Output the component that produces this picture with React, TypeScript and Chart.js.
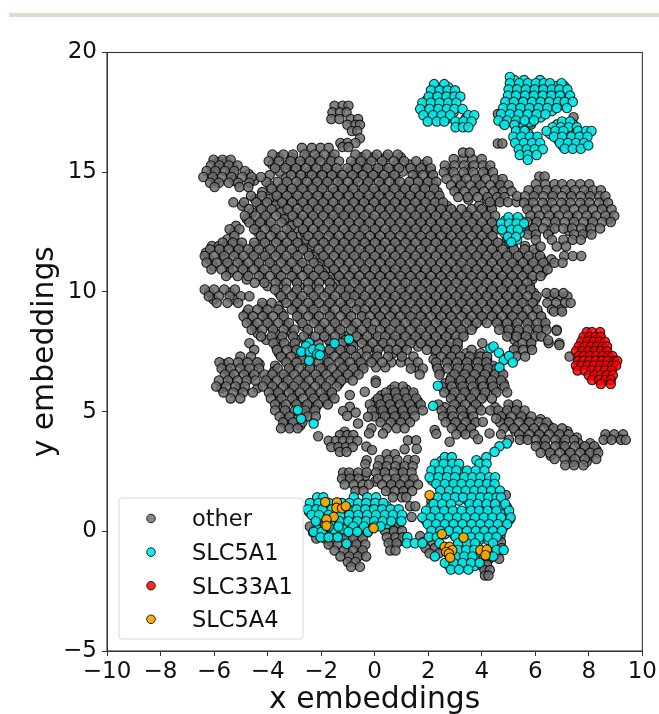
import React, { useEffect, useRef } from "react";
import { Chart, registerables } from "chart.js";

Chart.register(...registerables);

const xTicks = [-10, -8, -6, -4, -2, 0, 2, 4, 6, 8, 10];
const yTicks = [-5, 0, 5, 10, 15, 20];
const seriesNames = ["other", "SLC5A1", "SLC33A1", "SLC5A4"];

// Every row: [y, x, x, x ...]
const otherPatches: number[][] = [
  [11.78,-2.4],[11.5,-2.18],[11.22,-2.0],[10.94,-1.8],[10.66,-1.6],[10.38,-1.42],[10.12,-1.12],[9.9,-0.92],
  [13.18,-3.38],[12.9,-3.18],[12.62,-2.98],[12.34,-2.78],[12.06,-2.58],
  [14.0,-3.95],[13.75,-3.75],[13.46,-3.55],[8.14,-1.08],
  [7.86,-2.55,-2.1,-1.65,-0.85],[7.58,-2.5,-2.1,-1.0],[7.3,-2.75,-2.3,-1.9],[7.06,-2.5,0.62,0.98,1.3],[6.85,0.05,0.4,1.55],
  [17.43,4.6],[16.99,5.84],[17.3,7.43],[16.2,4.6,4.77],
];

const otherUnder: number[][] = [
  [15.62,-3.58,-3.1,-2.55,-2.1,-1.62,-0.5,-0.05,0.42,0.98],
  [15.32,-3.82,-3.25,-2.8,-2.3,-1.72,-0.72,-0.28,0.3,0.82,1.3,1.82],
  [15.03,-3.55,-3.02,-2.45,-1.95,-1.48,-0.92,-0.45,0.05,0.6,1.05,1.6,2.08],
  [14.74,-3.32,-2.72,-2.2,-1.72,-1.25,-0.7,-0.18,0.3,0.78,1.55,2.1],
  [14.45,-3.92,-3.4,-2.85,-2.35,-1.88,-1.3,-0.82,-0.3,0.22,0.75,1.2,1.78,2.22],
  [14.17,-4.2,-3.65,-3.12,-2.6,-2.08,-1.52,-1.02,-0.48,0.02,0.5,1.05,1.55,2.02,2.35],
  [13.88,-4.48,-3.95,-3.42,-2.9,-2.35,-1.82,-1.3,-0.75,-0.22,0.28,0.82,1.3,1.85,2.42],
  [13.6,-4.95,-4.3,-3.72,-3.2,-2.65,-2.12,-1.6,-1.02,-0.5,0.05,0.55,1.08,1.6,2.12,2.7,3.9,4.35],
  [13.32,-4.58,-4.02,-3.5,-2.98,-2.42,-1.88,-1.32,-0.8,-0.28,0.3,0.82,1.35,1.88,2.4,2.95,3.45,4.1],
  [13.04,-4.78,-4.2,-3.38,-2.75,-2.22,-1.65,-1.12,-0.55,-0.05,0.5,1.02,1.58,2.1,2.62,3.2,3.72,4.3],
  [12.76,-5.18,-4.45,-3.92,-3.1,-2.55,-2.0,-1.45,-0.92,-0.38,0.15,0.72,1.25,1.78,2.3,2.88,3.4,3.95,4.48],
  [12.48,-5.25,-4.35,-3.7,-3.18,-2.62,-2.18,-1.65,-1.1,-0.58,-0.02,0.5,1.05,1.55,2.12,2.65,3.18,3.72,4.25],
  [12.2,-5.5,-4.2,-3.6,-3.05,-2.55,-2.05,-1.48,-0.95,-0.4,0.12,0.68,1.2,1.75,2.28,2.8,3.35,3.9,4.42,4.95],
  [11.92,-6.08,-5.55,-5.05,-4.5,-3.95,-3.4,-2.85,-2.35,-1.82,-1.25,-0.72,-0.2,0.32,0.88,1.4,1.92,2.48,3.0,3.55,4.1,4.6,5.15,5.62],
  [11.64,-6.3,-5.72,-5.2,-4.65,-4.15,-3.6,-3.05,-2.5,-1.98,-1.45,-0.92,-0.38,0.15,0.68,1.22,1.75,2.3,2.82,3.35,3.88,4.42,4.95,5.5,6.02],
  [11.36,-6.18,-5.62,-5.05,-4.48,-3.95,-3.4,-2.88,-2.32,-1.78,-1.22,-0.7,-0.15,0.38,0.92,1.45,1.98,2.52,3.05,3.6,4.12,4.65,5.18,5.72,6.25,6.6],
  [11.08,-6.02,-5.45,-4.9,-4.32,-3.78,-3.22,-2.68,-2.12,-1.58,-1.05,-0.5,0.02,0.55,1.1,1.62,2.15,2.7,3.22,3.78,4.3,4.85,5.38,5.92,6.35],
  [10.8,-5.42,-4.78,-4.2,-3.62,-3.05,-2.48,-1.95,-1.4,-0.85,-0.3,0.22,0.75,1.3,1.85,2.38,2.92,3.45,4.0,4.52,5.05,5.62,6.28],
  [10.52,-4.78,-4.18,-3.55,-2.95,-2.32,-1.75,-1.2,-0.65,-0.1,0.42,0.98,1.52,2.05,2.6,3.12,3.65,4.2,4.75,5.28,5.88],
  [10.24,-4.0,-3.42,-2.82,-2.18,-1.58,-1.02,-0.48,0.08,0.62,1.15,1.7,2.25,2.78,3.32,3.85,4.4,4.92,5.45,5.8],
  [9.96,-3.58,-3.0,-2.38,-1.78,-1.18,-0.62,-0.08,0.45,1.0,1.52,2.08,2.6,3.15,3.68,4.22,4.78,5.3,5.95],
  [9.68,-3.38,-2.78,-2.18,-1.58,-0.98,-0.4,0.15,0.68,1.22,1.75,2.3,2.85,3.38,3.92,4.45,5.0,5.52,6.0],
  [9.4,-4.18,-3.58,-2.98,-2.38,-1.78,-1.18,-0.6,-0.05,0.5,1.02,1.58,2.1,2.65,3.18,3.72,4.28,4.8,5.35,5.92],
  [9.12,-4.78,-4.1,-3.48,-2.88,-2.28,-1.68,-1.05,-0.45,0.1,0.65,1.18,1.72,2.28,2.8,3.35,3.88,4.42,4.98,5.5,6.1],
  [8.84,-4.62,-4.02,-3.4,-2.78,-2.18,-1.58,-0.98,-0.35,0.25,0.8,1.35,1.88,2.42,2.95,3.5,4.02,4.58,5.12,5.68,6.25],
  [8.56,-4.48,-3.88,-3.25,-2.65,-2.02,-1.42,-0.82,-0.22,0.38,0.95,1.5,2.02,2.58,3.12,3.68,4.8,5.3,5.85,6.35],
  [8.28,-4.38,-3.72,-3.1,-2.5,-1.88,-1.28,-0.65,-0.05,0.55,1.12,1.68,2.22,2.78,3.32,5.02,5.5,6.12],
  [8.0,-4.05,-3.5,-2.92,-2.42,-1.72,-1.08,-0.4,0.22,0.82,1.38,1.95,2.5,3.12,5.22,5.75],
  [7.72,-3.68,-3.1,-1.45,-0.8,-0.18,0.45,1.05,1.62,2.18,2.72,3.1,5.32,5.82],
  [7.44,-3.58,-2.95,-1.72,-1.12,-0.5,0.08,0.68,1.0,2.28,2.88,3.42,3.95],
  [7.18,-3.38,-2.72,-1.88,-1.25,-0.65,-0.08,2.2,2.72,3.25,3.78,4.2],
  [6.92,-3.72,-3.02,-2.4,-1.78,-1.12,-0.48,2.32,2.92,3.48,4.02,4.42],
  [6.66,-3.78,-3.18,-2.55,-1.95,-1.32,-0.72,2.45,3.12,3.68,4.22,4.7],
  [6.42,-4.0,-3.42,-2.78,-2.15,-1.52,-1.02,2.85,3.42,3.98,4.55],
  [6.18,-3.95,-3.28,-2.62,-2.0,-1.32,2.62,3.18,3.75,4.3,4.82],
  [5.92,-3.72,-3.08,-2.48,-1.82,0.62,1.18,2.78,3.35,3.9,4.48],
  [5.68,-3.55,-2.92,-2.25,-1.62,0.25,0.88,1.42,2.92,3.52,4.1],
  [5.42,-3.6,-2.98,-2.35,-1.82,0.02,0.62,1.18,1.62,3.1,3.7],
  [5.18,-3.42,-2.72,-2.2,0.22,0.82,1.4,2.62,3.22,3.88,4.5,5.12],
  [4.92,-3.3,-2.62,0.45,1.02,2.72,3.4,4.85,5.42],
  [4.68,-3.38,-2.92,0.72,1.22,2.85,3.55,4.9,5.62,6.2],
  [4.42,-3.25,-2.78,3.1,3.62,5.05,5.7,6.5],
  [4.18,3.28,5.25,6.05,6.72,7.2],
  [3.92,5.6,6.3,6.95,7.55,8.72,9.12],
  [3.68,6.25,6.92,7.62,8.05],
  [3.42,6.42,7.12,7.82,8.28],
  [3.15,6.58,7.32,8.02],
  [2.9,7.4,7.92],
  [14.92,-6.12,-5.42,-4.7],[14.65,-5.92,-5.25,-4.5],[15.18,-5.88,-5.28],[15.42,-5.85,-5.55],
  [14.62,3.22,3.88,4.62],[15.12,2.78,3.5,4.2],[14.32,3.1,3.78,4.6],[13.86,3.5,4.2,4.7],
  [14.12,6.0,6.65,7.3,8.0],[13.6,5.75,6.45,7.15,7.85,8.55],[13.05,6.0,6.7,7.4,8.1,8.75],[12.55,5.85,6.55,7.25,7.95],
  [11.92,-5.82,-5.18],[9.98,-6.18,-5.4],[9.68,-6.02,-5.25],
  [6.98,-5.62,-4.92,-4.3],[6.45,-5.4,-4.62],[5.98,-5.72,-5.05,-4.38],[6.72,-5.48,-4.78],
  [5.55,0.32,0.98],[5.1,0.05,0.62,1.2],[4.75,0.2,0.92],
  [2.6,0.3,0.95],[2.08,0.02,0.78,1.32],[1.82,0.55,1.12],[2.32,-1.05,-0.78,-0.35],
  [0.1,-2.25,-1.62,-0.95,-0.48],[-0.42,-1.65,-1.02,-0.62],[-0.92,-1.02,-0.55],
  [0.15,0.7],[-0.4,0.62,0.95],
];

const otherMain: number[][] = [
  [17.78,-1.5,-1.2,-0.98],[17.5,-1.58,-1.3,-1.05],[17.22,-1.62,-1.32,-0.9,-0.62],[16.98,-1.02,-0.72,-0.55],[16.72,-0.85,-0.65],[16.42,-0.55],
  [16.22,-1.28,-1.02,-0.72],[16.05,-1.2,-0.98],
  [16.02,-2.72,-2.35,-2.02,-1.72],
  [15.74,-3.82,-3.41,-3.05,-2.62,-2.24,-1.88,-1.5,-0.72,-0.31,0.08,0.49,0.86],
  [15.46,-3.96,-3.58,-3.14,-2.78,-2.41,-2.03,-1.62,-1.33,-0.88,-0.52,-0.12,0.28,0.71,1.1,1.55,1.97],
  [15.17,-3.72,-3.33,-2.94,-2.57,-2.18,-1.79,-1.42,-1.02,-0.66,-0.27,0.13,0.52,0.91,1.34,1.72,2.1],
  [14.88,-3.92,-3.12,-2.76,-2.35,-1.96,-1.6,-1.2,-0.83,-0.44,-0.06,0.35,0.74,1.42,1.8,2.18],
  [14.6,-4.05,-3.62,-3.28,-2.92,-2.53,-2.15,-1.77,-1.38,-1.0,-0.62,-0.24,0.16,0.55,0.94,1.3,1.62,2.0,2.3],
  [14.31,-3.85,-3.47,-3.09,-2.7,-2.32,-1.95,-1.56,-1.18,-0.8,-0.41,-0.03,0.36,0.74,1.13,1.5,1.88,2.22],
  [14.02,-4.62,-4.22,-3.66,-3.28,-2.88,-2.51,-2.13,-1.74,-1.36,-0.97,-0.6,-0.22,0.17,0.56,0.93,1.32,1.7,2.06,2.42],
  [13.74,-5.28,-4.88,-4.42,-4.02,-3.46,-3.08,-2.69,-2.31,-1.92,-1.55,-1.16,-0.78,-0.4,-0.02,0.37,0.76,1.14,1.52,1.9,2.26,2.56],
  [13.46,-4.7,-4.24,-3.85,-3.26,-2.88,-2.5,-2.11,-1.73,-1.35,-0.96,-0.58,-0.2,0.2,0.58,0.96,1.34,1.72,2.1,2.48,2.86,3.24,3.62,4.0,4.38],
  [13.18,-4.85,-4.45,-4.07,-3.68,-3.07,-2.68,-2.3,-1.92,-1.54,-1.15,-0.77,-0.39,0,0.38,0.77,1.15,1.53,1.91,2.29,2.67,3.05,3.43,3.81,4.19,4.5],
  [12.9,-4.68,-4.28,-3.88,-3.48,-2.87,-2.49,-2.11,-1.72,-1.34,-0.96,-0.58,-0.19,0.2,0.58,0.96,1.34,1.72,2.1,2.48,2.86,3.24,3.62,4.0,4.38],
  [12.62,-5.42,-5.05,-4.5,-4.1,-3.7,-3.29,-2.68,-2.3,-1.91,-1.53,-1.15,-0.76,-0.38,0.01,0.39,0.77,1.15,1.53,1.91,2.29,2.67,3.05,3.43,3.81,4.19,4.58],
  [12.34,-5.24,-4.25,-3.88,-3.48,-3.08,-2.48,-2.1,-1.72,-1.33,-0.95,-0.57,-0.18,0.2,0.58,0.96,1.34,1.72,2.1,2.48,2.86,3.24,3.62,4.0,4.4],
  [12.06,-5.68,-5.3,-4.96,-4.5,-4.1,-3.68,-3.28,-2.88,-2.29,-1.91,-1.52,-1.14,-0.76,-0.37,0.01,0.39,0.77,1.15,1.53,1.91,2.29,2.67,3.05,3.43,3.81,4.19,4.6,5.0],
  [11.78,-6.15,-5.8,-5.45,-5.08,-4.72,-4.33,-3.9,-3.5,-3.1,-2.68,-2.1,-1.72,-1.33,-0.95,-0.57,-0.18,0.2,0.58,0.96,1.34,1.72,2.1,2.48,2.86,3.24,3.62,4.0,4.38,4.78,5.2,5.6,5.95],
  [11.5,-6.35,-6.0,-5.62,-5.25,-4.9,-4.52,-4.1,-3.7,-3.3,-2.88,-2.46,-1.91,-1.52,-1.14,-0.76,-0.37,0.01,0.39,0.77,1.15,1.53,1.91,2.29,2.67,3.05,3.43,3.81,4.19,4.57,4.95,5.35,5.75,6.18,7.08,7.4,7.72],
  [11.22,-6.28,-5.9,-5.5,-5.12,-4.72,-4.32,-3.92,-3.5,-3.1,-2.7,-2.28,-1.72,-1.33,-0.95,-0.57,-0.18,0.2,0.58,0.96,1.34,1.72,2.1,2.48,2.86,3.24,3.62,4.0,4.38,4.76,5.14,5.54,5.92,6.3,6.72,7.02],
  [10.94,-6.1,-5.72,-5.3,-4.92,-4.52,-4.12,-3.7,-3.3,-2.9,-2.48,-2.08,-1.52,-1.14,-0.76,-0.37,0.01,0.39,0.77,1.15,1.53,1.91,2.29,2.67,3.05,3.43,3.81,4.19,4.57,4.95,5.33,5.72,6.1,6.46],
  [10.66,-5.55,-5.12,-4.72,-4.32,-3.92,-3.5,-3.1,-2.7,-2.28,-1.88,-1.33,-0.95,-0.57,-0.18,0.2,0.58,0.96,1.34,1.72,2.1,2.48,2.86,3.24,3.62,4.0,4.38,4.76,5.14,5.52,5.9,6.2],
  [10.38,-4.48,-4.12,-3.7,-3.3,-2.9,-2.48,-2.08,-1.68,-1.14,-0.76,-0.37,0.01,0.39,0.77,1.15,1.53,1.91,2.29,2.67,3.05,3.43,3.81,4.19,4.57,4.95,5.32,5.7],
  [10.1,-6.35,-6.0,-5.62,-5.22,-3.72,-3.3,-2.9,-2.48,-2.08,-1.68,-1.28,-0.95,-0.57,-0.18,0.2,0.58,0.96,1.34,1.72,2.1,2.48,2.86,3.24,3.62,4.0,4.38,4.76,5.14,5.52,5.82],
  [9.82,-6.2,-5.82,-5.42,-5.0,-4.68,-3.5,-3.1,-2.7,-2.28,-1.88,-1.48,-1.08,-0.76,-0.37,0.01,0.39,0.77,1.15,1.53,1.91,2.29,2.67,3.05,3.43,3.81,4.19,4.57,4.95,5.33,5.7,6.05,6.55,6.85,7.2],
  [9.54,-5.9,-5.5,-5.1,-4.2,-3.85,-3.3,-2.9,-2.48,-2.08,-1.68,-1.28,-0.88,-0.57,-0.18,0.2,0.58,0.96,1.34,1.72,2.1,2.48,2.86,3.24,3.62,4.0,4.38,4.76,5.14,5.52,5.9,6.45,6.78,7.12,7.32],
  [9.26,-4.72,-4.38,-4.0,-3.6,-3.1,-2.7,-2.28,-1.88,-1.48,-1.08,-0.68,-0.37,0.01,0.39,0.77,1.15,1.53,1.91,2.29,2.67,3.05,3.43,3.81,4.19,4.57,4.95,5.33,5.71,6.08,6.62,6.95],
  [8.98,-4.9,-4.55,-4.18,-3.8,-3.4,-2.9,-2.48,-2.08,-1.68,-1.28,-0.88,-0.48,-0.18,0.2,0.58,0.96,1.34,1.72,2.1,2.48,2.86,3.24,3.62,4.0,4.38,4.76,5.14,5.52,5.9,6.22],
  [8.7,-4.78,-4.38,-4.0,-3.6,-3.2,-2.7,-2.28,-1.88,-1.48,-1.08,-0.68,-0.28,0.01,0.39,0.77,1.15,1.53,1.91,2.29,2.67,3.05,3.43,3.81,4.19,4.57,4.95,5.33,5.71,6.08,6.38],
  [8.42,-4.6,-4.2,-3.8,-3.4,-3,-2.5,-2.08,-1.68,-1.28,-0.88,-0.48,-0.08,0.2,0.58,0.96,1.34,1.72,2.1,2.48,2.86,3.24,3.62,4.65,5.0,5.38,5.72,6.1,6.42,6.8],
  [8.14,-4.25,-3.85,-3.45,-3.05,-2.65,-2.22,-1.88,-1.48,-0.68,-0.28,0.12,0.39,0.77,1.15,1.53,1.91,2.29,2.67,3.05,3.32,4.95,5.3,5.65,6.02,6.22],
  [7.86,-4.68,-3.78,-3.38,-2.98,-1.22,-0.48,-0.08,0.32,0.62,0.96,1.34,1.72,2.1,2.48,2.86,3.1,4.02,5.52,5.85,6.5,6.9],
  [7.58,-4.5,-3.65,-3.28,-2.92,-1.68,-1.28,-0.88,-0.28,0.12,0.52,0.82,1.2,1.95,2.29,2.67,3.02,3.62,5.2,5.55,5.88],
  [7.3,-5.02,-4.62,-3.5,-3.12,-1.5,-1.1,-0.7,-0.3,0.1,0.5,1.02,1.45,2.48,2.86,3.2,3.55,3.95,4.2,5.28,5.62,7.28],
  [7.06,-5.8,-5.45,-5.1,-4.75,-4.38,-3.3,-2.92,-2.1,-1.72,-1.32,-0.92,-0.52,-0.12,0.28,1.62,2.3,2.7,3.08,3.45,3.85,4.18],
  [6.8,-5.72,-5.38,-5.02,-4.68,-4.32,-3.62,-3.2,-2.82,-2.42,-2.02,-1.6,-1.2,-0.8,-0.42,1.35,1.8,2.35,2.72,3.1,3.48,3.86,4.24,4.55],
  [6.55,-5.6,-5.25,-4.88,-4.5,-4.12,-3.82,-3.4,-3.0,-2.6,-2.2,-1.8,-1.4,-1.0,-0.6,1.68,2.42,2.98,3.36,3.74,4.12,4.5,4.8],
  [6.3,-5.82,-5.48,-5.12,-4.78,-4.45,-4.05,-3.65,-3.25,-2.85,-2.45,-2.05,-1.65,-1.25,-0.82,0.04,2.82,3.22,3.6,4.0,4.38,4.72],
  [6.05,-5.92,-5.55,-5.2,-4.85,-4.18,-3.82,-3.42,-3.02,-2.62,-2.22,-1.82,-1.42,0.75,1.05,2.5,2.88,3.28,3.66,4.05,4.42,4.85],
  [5.8,-5.65,-5.28,-4.92,-4.55,-3.95,-3.6,-3.2,-2.8,-2.4,-2.02,-1.6,0.42,0.78,1.12,1.45,2.6,2.98,3.36,3.74,4.12,4.55,4.95],
  [5.55,-5.38,-5.02,-3.88,-3.48,-3.08,-2.68,-2.28,-1.9,-1.5,0.12,0.48,0.85,1.2,1.55,2.85,3.22,3.6,4.0,4.38],
  [5.3,-3.72,-3.32,-2.92,-2.52,-2.12,-1.75,-0.18,0.22,0.58,0.95,1.32,1.72,2.38,2.98,3.38,3.78,5.0,5.32],
  [5.05,-3.72,-3.35,-2.98,-2.6,-2.22,-0.1,0.3,0.68,1.05,1.42,1.8,2.5,2.88,3.25,3.62,3.98,4.32,4.62,4.95,5.28,5.6],
  [4.8,-3.55,-3.18,-2.5,-2.2,-0.02,0.38,0.75,1.12,1.5,2.55,2.92,3.3,3.68,4.72,5.1,5.48,5.85],
  [4.55,-3.42,-3.05,-2.7,0.22,0.6,0.98,1.32,2.65,3.02,3.4,3.78,4.68,5.02,5.4,5.78,6.15,6.42],
  [4.3,-3.5,-3.18,-2.88,0.45,0.82,1.12,2.88,3.25,3.6,4.82,5.2,5.58,5.95,6.32,6.68,7.0],
  [4.05,3.05,3.4,3.72,4.72,5.4,5.78,6.15,6.52,6.9,7.25,8.62,8.95,9.28],
  [3.82,5.02,5.42,5.72,6.02,6.38,6.75,7.12,7.45,8.55,8.85,9.2,9.38],
  [3.55,6.02,6.38,6.75,7.1,7.48,7.85,8.2],
  [3.28,6.2,6.55,6.92,7.3,7.68,8.05,8.35],
  [3.02,6.72,7.1,7.48,7.85,8.28],
  [2.76,7.12,7.45,7.8],
  [15.52,-6.02,-5.68,-5.38],[15.28,-6.12,-5.8,-5.45,-5.12],[15.05,-6.28,-5.95,-5.6,-5.25,-4.85],[14.8,-6.4,-6.05,-5.7,-5.35,-4.95,-4.6,-4.25],[14.56,-6.15,-5.82,-5.45,-5.1,-4.68],[14.38,-5.98,-5.05,-4.72],
  [15.55,2.95,3.3,3.65,4.0],[15.82,3.3,3.55],[15.28,2.62,2.98,3.34,3.7,4.05,4.32],[15.0,2.58,2.95,3.32,3.68,4.05,4.42],[14.72,2.68,3.05,3.42,3.78,4.15,4.5,4.78],[14.46,2.85,3.22,3.58,3.95,4.32,4.7,5.0],[14.2,2.98,3.35,3.72,4.08,4.45,4.8,5.12],[13.96,3.12,3.48,3.85,4.22,4.58,4.85],[13.75,4.3,4.68,4.98,5.3],
  [14.82,6.15,6.35],[14.5,6.02,6.38,6.72,7.0,7.35,7.68,8.02],[14.25,5.75,6.1,6.42,6.78,7.12,7.48,7.82,8.16,8.45],[14.0,5.32,5.62,5.95,6.3,6.65,7.0,7.35,7.7,8.05,8.4,8.62],[13.72,5.58,5.92,6.28,6.62,6.98,7.32,7.68,8.02,8.38,8.72],[13.45,5.7,6.05,6.4,6.75,7.1,7.45,7.8,8.15,8.5,8.85],[13.18,5.82,6.15,6.52,6.88,7.22,7.58,7.92,8.28,8.62,8.95],[12.92,5.7,6.05,6.4,6.75,7.1,7.45,7.8,8.15,8.5,8.82],[12.65,5.6,5.95,6.3,6.72,7.05,7.38,7.72,8.08,8.42],[12.4,5.72,6.02,6.48,7.45,7.78,8.1],[12.18,6.02,6.62,7.05,7.4,7.7],[11.9,6.2,6.8,7.15],
  [9.95,6.42,6.72,7.05],[9.18,6.7,7.0],[8.38,6.8],[7.98,6.48],[7.78,6.9],
  [5.69,-0.93],[5.83,-0.37],[6.2,0.04],[5.2,-0.93],[5.03,-1.18],[4.96,-0.71],[4.82,-1.03],[4.78,-0.25],[4.5,-0.62],[4.3,-0.12],[4.09,-0.21],[3.97,-2.11],[4.16,-1.12],[3.54,-0.31],[3.4,-0.1],[2.97,-0.3],[2.8,-0.35],
  [4.57,4.04],[4.09,4.29],[4.71,4.54],[3.74,2.8],[4.23,2.24],[4.07,2.3],[3.85,3.86],[3.43,1.12],[3.8,1.24,1.55],[3.45,1.57],[4.08,0.31],
  [4.02,-1.3,-1.02,-0.8],[3.78,-1.72,-1.45,-1.18,-0.9,-0.65],[3.52,-1.62,-1.35,-1.08,-0.82],[3.32,-1.3,-1.05],
  [3.22,0.45,0.75],[2.98,0.18,0.52,0.85,1.25,1.5],[2.72,0.12,0.45,0.78,1.12,1.42],[2.46,-1.18,-0.95,-0.62,-0.3,0.05,0.38,0.72,1.06,1.38],[2.2,-1.22,-0.92,-0.6,0.12,0.45,0.78,1.12,1.45],[1.95,-1.12,-0.78,-0.45,-0.22,0.28,0.62,0.95,1.3,1.62],[1.68,-0.72,-0.42,0.42,0.75,1.08,1.4],[1.42,0.68,1.02,1.18],
  [1.25,2.12],[1.05,1.32,1.52],[0.6,1.38],[0.28,0.55,0.9],[0.02,0.38,0.72,1.02],[-0.25,0.45,0.78,1.05],[-0.5,0.52,0.82],[-0.8,0.58,0.78],
  [0.2,-2.42,-2.1,-1.75,-1.4,-1.05,-0.7,-0.35],[-0.05,-2.3,-1.95,-1.6,-1.25,-0.9,-0.55,-0.28],[-0.3,-2.18,-1.85,-1.5,-1.15,-0.8,-0.45],[-0.55,-1.72,-1.38,-1.02,-0.68,-0.35],[-0.8,-1.5,-1.15,-0.8,-0.45],[-1.05,-1.28,-0.95,-0.62,-0.32],[-1.28,-1.0,-0.72],[-1.48,-0.88,-0.55],
  [-0.2,1.7,2.1,4.7],[-0.45,1.82,2.15,4.35,4.72],[-0.7,1.9,2.25,4.4,4.75],[-0.92,2.05,2.4,4.15,4.55],[-1.15,3.9,4.28,4.65],[-1.4,3.95,4.2],[-1.62,4.1,4.3],[-1.85,4.12,4.25],[1.52,4.9],[1.0,3.65,4.95],[0.5,5.05],[2.5,3.42],
];

const slc5a1Under: number[][] = [
  [18.55,2.32,2.75],[18.28,2.18,2.55,2.9],[18.02,1.95,2.25,2.6,2.9],[17.78,1.88,2.22,2.55,2.88],[17.5,1.92,2.28,2.62,2.95],[17.25,2.05,2.42,2.72,3.4],[17.0,3.12,3.42],
  [18.85,5.22,5.58,6.18],[18.6,5.18,5.52,5.85,6.18,6.48,6.78,7.08],[18.33,5.12,5.48,5.82,6.12,6.45,6.78,7.05],[18.07,5.08,5.42,5.75,6.08,6.42,6.75,7.18],[17.81,5.02,5.35,5.7,6.02,6.35,6.68,7.0],[17.55,4.95,5.28,5.62,5.95,6.28,6.62],[17.29,4.85,5.2,5.52,5.85,6.2],[17.08,4.78,5.12,5.45,5.8],
  [16.6,5.42,5.75],[16.35,5.32,5.65,5.98],[16.1,5.42,5.75,6.05],[15.85,5.55,5.85],
  [17.0,6.82,7.15,7.42],[16.6,6.55,6.88,7.2,7.52,7.8],[16.35,6.85,7.18,7.5,7.8],[16.1,7.02,7.32,7.62],
  [12.98,4.88,5.18,5.45],[12.72,4.9,5.2,5.48],[12.45,4.85,5.15,5.42],[12.18,5.02,5.32],
  [2.95,2.5,2.78],[2.68,2.4,2.72,3.02],[2.4,2.25,2.58,2.88,3.2,3.62,3.92],[2.12,2.15,2.5,2.82,3.12,3.45,3.78,4.12,4.38],[1.84,2.42,2.78,3.1,3.42,3.75,4.05,4.35],[1.56,2.55,2.9,3.22,3.55,3.88,4.18,4.5],[1.28,2.48,2.8,3.15,3.48,3.78,4.1,4.42],[1.0,2.08,2.38,2.72,3.72,4.02,4.35,4.7],[0.72,2.05,2.4,2.75,3.08,3.42,3.75,4.08,4.38,4.72],[0.44,1.92,2.25,2.58,2.92,3.25,3.58,3.92,4.25,4.58,4.85],[0.16,2.12,2.45,2.78,3.12,3.45,3.78,4.12,4.45,4.8],[-0.12,2.28,2.62,2.95,3.28,3.62,3.95,4.28,4.62],[-0.38,3.25,3.58,3.9,4.25],[-0.65,3.25,3.58,3.85],[-0.92,3.18,3.5,3.78],[-1.2,2.78,3.12,3.45,3.75],[-1.45,2.78,3.05,3.35,3.72],
  [1.05,-2.28,-1.88,-1.42,-0.78,-0.48,-0.15,0.18,0.45],[0.8,-2.45,-2.12,-1.85,-1.15,-0.82,-0.5,-0.18,0.12,0.45,0.78],[0.55,-2.22,-1.92,-1.5,-1.12,-0.78,-0.45,-0.15,0.18,0.52,0.85],[0.3,-1.85,-1.5,-1.15,-0.82,-0.48,-0.18,0.15,0.45],[0.08,-2.15,-1.52,-1.15,-0.62,-0.25],
];

const slc5a1Clusters: number[][] = [
  [18.68,2.22,2.6],[18.42,2.1,2.42,2.72,3.0],[18.16,2.02,2.35,2.68,2.98,3.2],[17.9,1.78,2.1,2.42,2.75,3.05],[17.64,1.7,2.05,2.38,2.7,2.98,3.28],[17.38,1.82,2.18,2.5,2.82,3.5,3.72],[17.12,1.98,2.32,2.6,3.02,3.32,3.62],[16.88,3.02,3.3,3.5],
  [18.98,5.05],[18.72,5.05,5.4,5.72,6.02,6.32,6.55,6.98],[18.46,5.0,5.32,5.65,5.98,6.3,6.62,6.9,7.2],[18.2,4.98,5.28,5.62,5.95,6.28,6.6,6.92,7.3],[17.94,4.88,5.2,5.55,5.88,6.2,6.52,6.85,7.1,7.4],[17.68,4.8,5.12,5.45,5.78,6.12,6.45,6.8,7.18],[17.42,4.72,5.05,5.38,5.72,6.05,6.38],[17.16,4.62,4.95,5.28,5.6,5.95],[16.98,4.85,5.22],
  [16.72,5.28,5.6],[16.48,5.18,5.48,5.8,6.08],[16.22,5.25,5.58,5.88,6.18],[15.96,5.38,5.68,5.98,6.28],[15.72,5.42,5.72,6.05],[15.52,5.72],
  [17.12,7.0,7.3],[16.88,6.65,6.95,7.25,7.55],[16.72,6.42,6.75,7.05,7.6,7.9,8.1],[16.48,6.7,7.0,7.35,7.65,7.95],[16.22,6.92,7.22,7.52,7.82],[15.98,7.1,7.4,7.7],[16.12,7.98],
  [13.12,5.0,5.35],[12.86,4.72,5.02,5.3,5.58],[12.6,4.75,5.1,5.35],[12.3,4.98,5.28],[12.08,5.1],
  [3.67,4.94],[3.55,4.66],[3.32,4.48],[3.1,4.17],[2.97,3.8],
  [3.1,2.62,2.88],[2.82,2.25,2.58,2.9,3.15,3.92,4.18],[2.54,2.12,2.42,2.75,3.05,3.45,3.78,4.1],[2.26,2.05,2.38,2.7,3.0,3.35,3.65,3.95,4.28,4.5],[1.98,2.3,2.62,2.95,3.25,3.58,3.9,4.2,4.48],[1.7,2.45,2.78,3.08,3.4,3.72,4.02,4.35,4.68],[1.42,2.35,2.68,3.0,3.3,3.62,3.95,4.25,4.55,4.72],[1.14,2.2,2.52,2.85,3.55,3.85,4.18,4.5,4.88],[0.86,1.92,2.25,2.6,2.92,3.25,3.6,3.9,4.22,4.55,5.02],[0.58,1.78,2.1,2.42,2.75,3.08,3.4,3.75,4.08,4.4,4.72,5.08],[0.3,1.98,2.3,2.62,2.95,3.28,3.62,3.95,4.28,4.6,4.95],[0.02,2.12,2.45,2.78,3.1,3.45,3.78,4.1,4.42,4.75],[-0.24,1.22,2.02,2.32,3.02,3.6,3.92,4.25,4.55],[-0.5,1.2,1.5,1.78,2.42,3.12,3.45,3.75,4.42],[-0.78,3.1,3.42,3.72,4.55,4.82],[-1.05,2.25,3.02,3.35,3.65,4.42],[-1.32,2.62,2.95,3.28,3.6,3.92],[-1.6,2.85,3.15,3.5],
  [1.42,-2.15,-1.92,-0.78,-0.28,0.05],[1.18,-2.42,-2.1,-1.7,-1.22,-0.95,-0.62,-0.32,0.02,0.32],[0.92,-2.5,-2.18,-1.95,-1.6,-1.0,-0.68,-0.35,-0.02,0.28,0.6,0.9],[0.68,-2.35,-2.08,-1.72,-1.28,-0.95,-0.62,-0.28,0.05,0.38,0.68,1.02],[0.42,-2.2,-1.62,-1.32,-0.98,-0.65,-0.32,-0.02,0.3,0.62,1.0],[0.2,-1.72,-1.35,-0.8,-0.4,0.0,0.22],[-0.02,-2.28,-1.98,-0.98,-0.65,-0.25],[-0.25,-2.02,-1.72,-1.38],[-0.52,-1.05],
];

const slc5a1X = [-2.45,-2.57,-2.74,-2.43,-2.3,-2.05,-2.15,-2.05,-2.45,-1.5,-0.96,-2.87,-2.75,-2.28,2.36,2.18,4.32,4.44,4.64,4.9,4.82,5.02,5.16,4.66];
const slc5a1Y = [7.87,7.73,7.5,7.5,7.6,7.64,7.4,7.36,7.12,7.85,8.02,5.06,4.7,4.5,6.08,5.24,7.64,7.72,7.46,7.22,7.15,7.32,7.05,6.85];

const slc33a1Rows: number[][] = [
  [8.32,7.92,8.12,8.42],[8.12,7.8,8.02,8.25,8.45],[7.92,7.72,7.95,8.18,8.4,8.6],[7.72,7.62,7.85,8.08,8.3,8.52,8.68],[7.52,7.52,7.75,7.98,8.22,8.45,8.68],[7.32,7.62,7.82,8.05,8.28,8.52,8.72,8.88],[7.12,7.6,7.8,8.02,8.25,8.48,8.7,8.95,9.06],[6.92,7.52,7.72,7.95,8.18,8.42,8.65,8.88,9.02],[6.72,7.58,7.85,8.1,8.35,8.6,8.85],[6.52,8.0,8.22,8.45,8.68,8.9],[6.32,8.12,8.38,8.62,8.82],[6.15,8.45,8.82],
];

const slc5a4X = [-1.85,-1.41,-1.43,-1.22,-1.08,-1.53,-1.8,-1.8,-0.04,2.05,2.51,3.32,2.61,2.8,2.9,2.67,2.77,2.82,3.95,4.19,4.14];
const slc5a4Y = [1.22,1.21,0.98,0.96,1.05,0.6,0.5,0.23,0.13,1.51,-0.12,-0.26,-0.65,-0.65,-0.79,-0.86,-0.93,-1.1,-0.79,-0.77,-1.0];

const fromRows = (rows: number[][]) => rows.flatMap(([y, ...xs]) => xs.map((x) => ({ x, y })));
const fromXY = (xs: number[], ys: number[]) => xs.map((x, i) => ({ x, y: ys[i] }));

const fills = ["rgba(108,108,108,0.85)", "rgba(0,232,232,0.92)", "rgba(255,0,0,0.85)", "rgba(255,165,0,0.95)"];
const edge = "rgba(0,0,0,0.82)";

const minus = (v: number) => String(v).replace("-", "\u2212");

const frame = {
  id: "frame",
  afterDatasetsDraw(chart: any) {
    const { ctx, chartArea: a } = chart;
    ctx.save();
    ctx.strokeStyle = "#333";
    ctx.lineWidth = 1.1;
    ctx.strokeRect(a.left, a.top, a.right - a.left, a.bottom - a.top);
    const x0 = a.left + 12, y0 = a.bottom - 153, w = 184, h = 141;
    ctx.beginPath();
    ctx.roundRect(x0, y0, w, h, 3);
    ctx.fillStyle = "rgba(255,255,255,0.85)";
    ctx.fill();
    ctx.strokeStyle = "#d8d8d8";
    ctx.lineWidth = 1;
    ctx.stroke();
    ctx.font = '22.5px "DejaVu Sans"';
    ctx.textBaseline = "middle";
    chart.data.datasets.forEach((d: any, i: number) => {
      const cy = y0 + 20.5 + i * 33.6;
      ctx.beginPath();
      ctx.arc(x0 + 32, cy, 4.3, 0, Math.PI * 2);
      ctx.fillStyle = i === 0 ? "rgba(128,128,128,0.95)" : d.backgroundColor;
      ctx.fill();
      ctx.strokeStyle = edge;
      ctx.lineWidth = 1;
      ctx.stroke();
      ctx.fillStyle = "#111";
      ctx.fillText(d.label, x0 + 73, cy + 2);
    });
    ctx.restore();
  },
};

export default function App() {
  const ref = useRef<HTMLCanvasElement>(null);
  useEffect(() => {
    const base = { pointRadius: 4.7, borderWidth: 1.1, borderColor: edge, pointBorderColor: edge };
    const chart = new Chart(ref.current as HTMLCanvasElement, {
      type: "scatter",
      data: {
        datasets: [
          { ...base, label: seriesNames[0], order: 4, data: [...fromRows(otherPatches), ...fromRows(otherUnder), ...fromRows(otherMain)], backgroundColor: fills[0] },
          { ...base, label: seriesNames[1], order: 3, data: [...fromRows(slc5a1Under), ...fromRows(slc5a1Clusters), ...fromXY(slc5a1X, slc5a1Y)], backgroundColor: fills[1] },
          { ...base, label: seriesNames[2], order: 2, data: fromRows(slc33a1Rows), backgroundColor: fills[2] },
          { ...base, label: seriesNames[3], order: 1, data: fromXY(slc5a4X, slc5a4Y), backgroundColor: fills[3] },
        ],
      },
      options: {
        animation: false,
        responsive: false,
        layout: { padding: { top: 52.5, right: 16.3, left: 0, bottom: 0 } },
        plugins: { legend: { display: false }, tooltip: { enabled: false } },
        scales: {
          x: {
            type: "linear",
            min: -10,
            max: 10,
            afterBuildTicks: (s: any) => { s.ticks = xTicks.map((value) => ({ value })); },
            afterFit: (s: any) => { s.height = 63; },
            grid: { drawOnChartArea: false, tickLength: 5, tickColor: "#333", tickWidth: 1 },
            border: { color: "#333", width: 1 },
            ticks: { maxRotation: 0, autoSkip: false, padding: 2, color: "#111", font: { family: "DejaVu Sans", size: 23 }, callback: (v: any) => minus(v) },
            title: { display: true, text: "x embeddings", color: "#111", font: { family: "DejaVu Sans", size: 29.8 }, padding: { top: 0, bottom: -4 } },
          },
          y: {
            type: "linear",
            min: -5,
            max: 20,
            afterBuildTicks: (s: any) => { s.ticks = yTicks.map((value) => ({ value })); },
            afterFit: (s: any) => { s.width = 107; },
            grid: { drawOnChartArea: false, tickLength: 5, tickColor: "#333", tickWidth: 1 },
            border: { color: "#333", width: 1 },
            ticks: { autoSkip: false, padding: 5, color: "#111", font: { family: "DejaVu Sans", size: 23 }, callback: (v: any) => minus(v) },
            title: { display: true, text: "y embeddings", color: "#111", font: { family: "DejaVu Sans", size: 29.8 }, padding: { top: 27, bottom: 0 } },
          },
        },
      },
      plugins: [frame],
    } as any);
    return () => chart.destroy();
  }, []);
  return (
    <div style={{ position: "fixed", left: 0, top: 0, width: 659, height: 714, background: "#fff" }}>
      <div style={{ position: "absolute", left: 9, top: 13, width: 650, height: 4, background: "#e0dccb" }} />
      <canvas ref={ref} width={659} height={714} style={{ position: "absolute", left: 0, top: 0, display: "block", filter: "blur(0.35px)" }} />
    </div>
  );
}
